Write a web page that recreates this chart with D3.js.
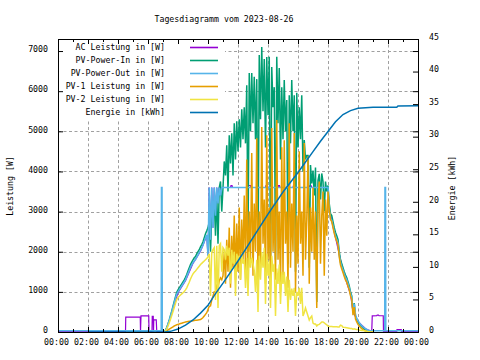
<!DOCTYPE html>
<html><head><meta charset="utf-8">
<script src="https://cdn.jsdelivr.net/npm/d3@7"></script>
<style>
html,body{margin:0;padding:0;background:#fff;}
svg{display:block;}
text{font-family:"DejaVu Sans Mono",monospace;font-size:8.25px;fill:#000;}
</style></head><body>
<svg id="c" width="480" height="360"></svg>
<script>
const title = "Tagesdiagramm vom 2023-08-26";
const yLabel = "Leistung [W]";
const y2Label = "Energie [kWh]";
const seriesNames = ["AC Leistung in [W]","PV-Power-In in [W]","PV-Power-Out in [W]","PV-1 Leistung in [W]","PV-2 Leistung in [W]","Energie in [kWh]"];
const seriesColors = ["#9400d3","#009e73","#56b4e9","#e69f00","#f0e442","#0072b2"];
const xTickHours = [0,2,4,6,8,10,12,14,16,18,20,22,24];
const xTickLabels = ["00:00","02:00","04:00","06:00","08:00","10:00","12:00","14:00","16:00","18:00","20:00","22:00","00:00"];
const xMinorHours = [1,3,5,7,9,11,13,15,17,19,21,23];
const leftTicks = [0,1000,2000,3000,4000,5000,6000,7000];
const rightTicks = [0,5,10,15,20,25,30,35,40,45];

// dense series: 5-minute samples from 07:00 to 21:00
const denseStart = "07:00";
const denseStepMinutes = 5;
const pvIn = [
  0,0,40,110,200,300,410,520,640,760,880,990,
  1050,1100,1150,1200,1250,1300,1360,1430,1520,1600,1680,1740,
  1800,1850,1880,1950,2000,2050,2120,2180,2250,2350,2450,2520,
  2600,2750,2000,2900,3100,3250,2400,3450,2200,3600,3750,3000,
  3600,4250,3900,4650,3500,4900,4200,4950,3900,5200,4300,5250,
  4500,5300,4600,5550,4800,5600,4700,6150,2300,6450,5000,6450,
  5200,6360,4800,6300,1700,6900,5300,7100,5500,6800,4600,6850,
  5400,6860,1700,6600,5600,6100,1800,6860,5200,6580,4300,6100,
  4800,6280,5000,5780,1700,5900,4700,6280,5000,5900,1500,5960,
  4600,5600,4800,5900,4000,4780,4300,4400,4400,1600,4160,3700,
  4020,3400,4100,750,3780,3940,3300,3950,3750,3000,3750,3500,
  3650,3200,2950,2900,2750,2600,2480,2400,2300,2000,1800,1700,
  1600,1500,1420,1350,1250,1150,1000,900,500,720,400,320,
  250,200,160,130,100,70,50,35,20,10,0,0,
  0];
const pv1 = [
  0,0,10,30,50,70,90,110,130,150,165,180,
  190,200,210,220,230,240,250,255,260,265,270,275,
  280,285,290,295,300,305,310,330,360,400,440,480,
  560,640,650,800,900,1000,1000,1150,1100,1280,1350,1300,
  1400,2000,1200,2300,1500,2600,1100,2400,1600,2900,1300,2700,
  1500,3100,1300,2800,1800,3400,1500,4300,1200,3000,1800,4460,
  1400,3200,2000,4830,1100,3000,1600,5110,2200,3300,1200,4900,
  1800,3100,1000,5080,2000,3200,1300,5280,1800,3000,1000,4600,
  1400,4780,2200,3000,1100,5200,1600,3200,2000,4960,1000,2900,
  1700,4500,2200,3000,1400,4710,1800,2800,4380,1200,3100,2000,
  3600,1800,3000,600,3200,3750,1700,2900,3500,1400,3300,2400,
  3500,3050,2800,2750,2600,2460,2340,2260,2170,1870,1670,1570,
  1480,1380,1300,1240,1140,1050,900,810,420,620,320,250,
  190,150,110,85,60,40,25,15,8,3,0,0,
  0];
const pv2 = [
  0,0,30,80,150,230,320,410,510,610,715,810,
  860,890,920,950,980,1010,1050,1100,1170,1240,1320,1390,
  1450,1490,1520,1560,1600,1640,1680,1710,1740,1770,1800,1830,
  1880,1950,900,1980,2050,2100,800,2150,600,2150,2200,1500,
  2100,2050,1800,2150,1900,2100,1200,2050,1700,2000,900,1950,
  1800,1900,1300,1950,1700,1800,1100,1850,900,2000,1600,1850,
  1700,1530,1000,1800,500,1900,1300,1990,1600,2100,700,1950,
  1400,1780,600,1900,1500,1700,400,1580,1200,1680,700,1500,
  1200,1500,900,1380,500,1300,800,1080,900,1100,400,1000,
  900,1100,700,1100,400,480,600,500,400,300,360,400,
  220,200,200,150,180,190,220,250,250,230,200,180,
  150,140,140,135,130,130,130,130,125,125,170,160,
  120,115,110,105,100,95,90,85,70,80,70,60,
  60,50,45,40,35,30,25,20,12,7,0,0,
  0];

// sparse series: [time, value]
const pvOut = [
  ["00:00",30],["06:53",30],["06:54",3600],["06:56",3600],["06:57",30],["07:05",30],["07:10",40],["07:15",100],
  ["07:20",190],["07:25",285],["07:30",390],["07:35",495],["07:40",610],["07:45",725],["07:50",840],["07:55",945],
  ["08:00",1000],["08:10",1100],["08:20",1195],["08:30",1300],["08:40",1455],["08:50",1610],["09:00",1730],
  ["09:10",1805],["09:20",1920],["09:30",2035],["09:40",2160],["09:50",2350],["09:55",2420],
  ["10:00",1900],["10:05",3600],["10:10",2300],["10:15",3600],["10:20",2600],["10:25",3600],["10:30",2900],
  ["10:35",3600],["10:40",3200],["10:45",3600],["10:50",3400],["10:55",3600],["18:00",3600],
  ["18:05",3080],["18:10",2830],["18:15",2780],["18:20",2640],["18:25",2500],["18:30",2380],["18:35",2300],
  ["18:40",2210],["18:45",1920],["18:50",1730],["18:55",1630],["19:00",1540],["19:05",1440],["19:10",1360],
  ["19:15",1300],["19:20",1200],["19:25",1100],["19:30",960],["19:35",870],["19:40",520],["19:45",700],
  ["19:50",420],["19:55",340],["20:00",280],["20:10",190],["20:20",130],["20:30",80],["20:40",45],["20:50",30],
  ["21:47",30],["21:48",3600],["21:50",3600],["21:51",30],["24:00",30]];
const acPower = [
  ["00:00",10],["04:30",10],["04:31",370],["05:29",370],["05:30",10],["05:32",400],["06:03",400],["06:04",10],
  ["06:16",10],["06:17",390],["06:21",390],["06:22",10],["06:23",300],["06:33",300],["06:35",10],["07:10",10],
  ["07:30",370],["08:00",980],["08:30",1280],["09:00",1710],["09:30",2010],["09:55",2400],
  ["10:00",1900],["10:05",3600],["10:10",2300],["10:15",3600],["10:20",2600],["10:25",3600],["10:30",2900],
  ["10:35",3600],["10:40",3200],["10:45",3600],["10:50",3400],["10:55",3600],
  ["11:30",3600],["11:32",3650],["11:36",3650],["11:38",3600],["12:40",3600],["12:42",3650],["12:50",3650],
  ["12:52",3600],["13:50",3600],["13:52",3650],["13:58",3650],["14:00",3600],["14:40",3600],["14:42",3650],
  ["14:46",3650],["14:48",3600],["15:40",3600],["15:42",3650],["15:48",3650],["15:50",3600],["16:45",3600],
  ["16:47",3640],["16:53",3640],["16:55",3600],["18:00",3600],["18:05",3060],["18:30",2360],["19:00",1520],
  ["19:30",940],["19:40",500],["20:00",260],["20:30",80],["20:55",10],["20:57",400],["21:15",405],["21:17",420],
  ["21:22",420],["21:24",405],["21:41",405],["21:42",10],["22:35",10],["22:36",60],["22:53",60],["22:54",10],
  ["24:00",10]];
const energie = [
  ["02:00",0],["07:05",0],["07:30",0.1],["08:00",0.45],["08:30",1.05],["09:00",1.85],["09:30",2.9],
  ["10:00",4.1],["10:30",5.9],["11:00",7.5],["11:30",9.2],["12:00",10.9],["12:30",12.7],["13:00",14.5],
  ["13:30",16.3],["14:00",18.1],["14:30",19.8],["15:00",21.5],["15:30",23.0],["16:00",24.5],["16:30",26.1],
  ["17:00",27.7],["17:30",29.3],["18:00",30.8],["18:30",32.3],["19:00",33.4],["19:30",34.0],["20:00",34.35],
  ["20:30",34.45],["21:00",34.5],["22:35",34.5],["22:40",34.7],["24:00",34.75]];

const hours = s => { const [h,m] = s.split(":").map(Number); return h + m/60; };
const denseToPairs = arr => arr.map((v,i) => [hours(denseStart) + i*denseStepMinutes/60, v]);
const sparseToPairs = arr => arr.map(([t,v]) => [hours(t), v]);

const svg = d3.select("#c");
const L = 58, R = 418, T = 39, B = 332;
const x = d3.scaleLinear().domain([0,24]).range([L,R]);
const yL = d3.scaleLinear().domain([0,7300]).range([B,T]);
const yR = d3.scaleLinear().domain([0,45]).range([B,T]);

// grid
const grid = svg.append("g").attr("stroke","#a0a0a0").attr("stroke-width",1).attr("stroke-dasharray","3,2.5").attr("fill","none");
leftTicks.filter(v => v > 0).forEach(v => {
  const yy = Math.round(yL(v)) + 0.5;
  grid.append("line").attr("x1",L).attr("x2",R).attr("y1",yy).attr("y2",yy);
});
xTickHours.filter(h => h > 0 && h < 24).forEach(h => {
  const xx = Math.round(x(h)) + 0.5;
  grid.append("line").attr("x1",xx).attr("x2",xx).attr("y1",T).attr("y2",B);
});

// series
const series = [
  {data: sparseToPairs(acPower), axis: yL, w: 1.2},
  {data: denseToPairs(pvIn), axis: yL, w: 1.5},
  {data: sparseToPairs(pvOut), axis: yL, w: 1.6},
  {data: denseToPairs(pv1), axis: yL, w: 1.5},
  {data: denseToPairs(pv2), axis: yL, w: 1.5},
  {data: sparseToPairs(energie), axis: yR, w: 1.5}
];
const plot = svg.append("g");
series.forEach((s,i) => {
  const line = d3.line().x(d => x(d[0])).y(d => s.axis(d[1]));
  plot.append("path").attr("d", line(s.data)).attr("fill","none")
    .attr("stroke", seriesColors[i]).attr("stroke-width",s.w).attr("stroke-linejoin","miter");
});

// opaque key box
svg.append("rect").attr("x",L+1).attr("y",T+1).attr("width",166).attr("height",79).attr("fill","#fff");

// frame
svg.append("rect").attr("x",L+0.5).attr("y",T+0.5).attr("width",R-L).attr("height",B-T)
  .attr("fill","none").attr("stroke","#000").attr("stroke-width",1);

// axes
function clean(g){ g.select(".domain").remove(); g.selectAll("line").attr("stroke","#000"); return g; }
const gL = svg.append("g").attr("transform",`translate(${L},0)`)
  .call(d3.axisLeft(yL).tickValues(leftTicks).tickSize(-5).tickPadding(10).tickFormat(d => String(d)));
clean(gL).selectAll("text").attr("dy","0.7");
const gR = svg.append("g").attr("transform",`translate(${R},0)`)
  .call(d3.axisRight(yR).tickValues(rightTicks).tickSize(-5).tickPadding(11).tickFormat(d => String(d)));
clean(gR).selectAll("text").attr("dy","0.3");
const gRm = svg.append("g").attr("transform",`translate(${R},0)`)
  .call(d3.axisRight(yL).tickValues(leftTicks).tickSize(-5).tickFormat(""));
clean(gRm);
const gB = svg.append("g").attr("transform",`translate(0,${B})`)
  .call(d3.axisBottom(x).tickValues(xTickHours).tickSize(-5).tickFormat((d,i) => xTickLabels[i]));
clean(gB).selectAll("text").attr("y",13).attr("dy","0").attr("dx","-2");
const gBm = svg.append("g").attr("transform",`translate(0,${B})`)
  .call(d3.axisBottom(x).tickValues(xMinorHours).tickSize(-3).tickFormat(""));
clean(gBm);
const gT = svg.append("g").attr("transform",`translate(0,${T})`)
  .call(d3.axisTop(x).tickValues(xTickHours).tickSize(-5).tickFormat(""));
clean(gT);
const gTm = svg.append("g").attr("transform",`translate(0,${T})`)
  .call(d3.axisTop(x).tickValues(xMinorHours).tickSize(-3).tickFormat(""));
clean(gTm);
svg.selectAll("g").filter(function(){ return this.hasAttribute("font-size"); })
  .attr("font-size",null).attr("font-family",null);

// titles
svg.append("text").attr("x",224).attr("y",22).attr("text-anchor","middle").text(title);
svg.append("text").attr("transform","translate(13,186) rotate(-90)").attr("text-anchor","middle").text(yLabel);
svg.append("text").attr("transform","translate(455,188) rotate(-90)").attr("text-anchor","middle").text(y2Label);

// legend
const leg = svg.append("g");
seriesNames.forEach((n,i) => {
  const yc = 47 + 13*i;
  leg.append("text").attr("x",165).attr("y",yc+3).attr("text-anchor","end").text(n);
  leg.append("line").attr("x1",190).attr("x2",218).attr("y1",yc+0.5).attr("y2",yc+0.5)
    .attr("stroke",seriesColors[i]).attr("stroke-width",1.6);
});
</script>
</body></html>
